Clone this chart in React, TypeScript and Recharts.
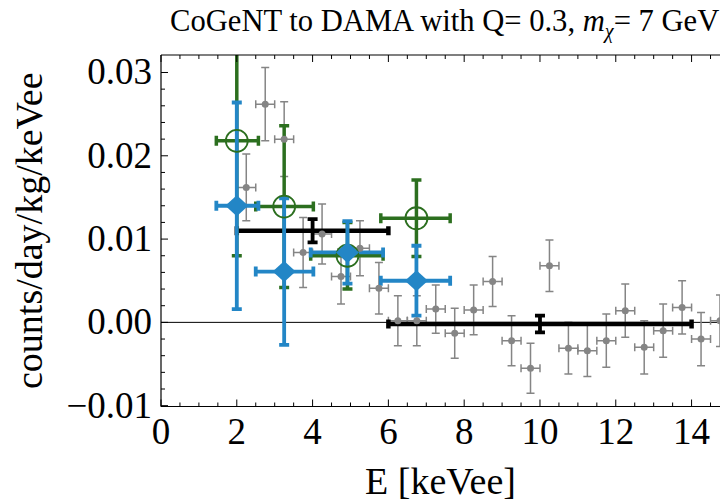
import React from 'react';
import { ScatterChart, Scatter, XAxis, YAxis, ErrorBar, ReferenceLine } from 'recharts';

// CoGeNT modulation amplitude in 0.5 keVee bins
const cogentE = [2.25, 2.75, 3.25, 3.75, 4.25, 4.75, 5.25, 5.75, 6.25, 6.75, 7.25, 7.75, 8.25, 8.75, 9.25, 9.75, 10.25, 10.75, 11.25, 11.75, 12.25, 12.75, 13.25, 13.75, 14.25, 14.75];
const cogentAmp = [0.0162, 0.0262, 0.022, 0.0084, 0.0106, 0.0055, 0.0089, 0.0041, 0.0002, 0.0002, 0.0016, -0.0013, 0.0015, 0.0049, -0.0022, -0.0055, 0.0068, -0.0031, -0.0034, -0.0022, 0.0014, -0.003, -0.001, 0.0018, -0.002, 0.0002];
const cogentErr = [0.004, 0.0044, 0.0045, 0.0042, 0.0036, 0.0033, 0.0033, 0.0031, 0.003, 0.003, 0.0029, 0.003, 0.003, 0.003, 0.003, 0.003, 0.0031, 0.0031, 0.0031, 0.0032, 0.0032, 0.0032, 0.0032, 0.0032, 0.0032, 0.0031];
const cogentHalfBin = 0.25;

// DAMA modulation amplitude
const damaE = [4, 10];
const damaHalfWidth = [2, 4];
const damaAmp = [0.011, -0.0002];
const damaErr = [0.0014, 0.001];

// CoGeNT rebinned onto DAMA energies
const convE = [2.0, 3.25, 4.92, 6.74];
const convLeft = [0.54, 0.75, 0.97, 0.94];
const convRight = [0.57, 0.77, 0.94, 0.89];
const greenAmp = [0.0218, 0.0139, 0.008, 0.0125];
const greenErr = [0.0138, 0.0097, 0.004, 0.0046];
const blueAmp = [0.014, 0.0061, 0.0084, 0.0050];
const blueErr = [0.0124, 0.0088, 0.00375, 0.0042];

// axis ticks
const xTicks = [0, 0.5, 1, 1.5, 2, 2.5, 3, 3.5, 4, 4.5, 5, 5.5, 6, 6.5, 7, 7.5, 8, 8.5, 9, 9.5, 10, 10.5, 11, 11.5, 12, 12.5, 13, 13.5, 14, 14.5];
const xMajor = [0, 2, 4, 6, 8, 10, 12, 14];
const yTicks = [-0.01, -0.008, -0.006, -0.004, -0.002, 0, 0.002, 0.004, 0.006, 0.008, 0.01, 0.012, 0.014, 0.016, 0.018, 0.02, 0.022, 0.024, 0.026, 0.028, 0.03];
const yMajor = [-0.01, 0, 0.01, 0.02, 0.03];
const yMajorLabels = ['\u22120.01', '0.00', '0.01', '0.02', '0.03'];

const SERIF = '"Liberation Serif", "Times New Roman", serif';
const GRAY = '#858585';
const GREEN = '#2c6f1f';
const BLUE = '#2386c6';
const TICK_FONT = 37;

// chart layout
const W = 720;
const H = 503;
const MARGIN_TOP = 54;
const TOP_AXIS_H = 1;
const Y_AXIS_W = 161;
const X_AXIS_H = 96.5;

const grayData = cogentE.map((x, i) => ({ x, y: cogentAmp[i], ex: cogentHalfBin, ey: cogentErr[i] }));
const damaData = damaE.map((x, i) => ({ x, y: damaAmp[i], ex: damaHalfWidth[i], ey: damaErr[i] }));
const greenData = convE.map((x, i) => ({ x, y: greenAmp[i], ex: [convLeft[i], convRight[i]], ey: greenErr[i] }));
const blueData = convE.map((x, i) => ({ x, y: blueAmp[i], ex: [convLeft[i], convRight[i]], ey: blueErr[i] }));

const near = (a: number, list: number[]) => list.findIndex((b) => Math.abs(a - b) < 1e-9);

const BottomTick = (props: any) => {
  const { x, y, payload } = props;
  const major = near(payload.value, xMajor) >= 0;
  return (
    <g>
      <line x1={x} x2={x} y1={y} y2={y - (major ? 7 : 4)} stroke="#000" strokeWidth={1} />
      {major && (
        <text x={x} y={y + 37.5} textAnchor="middle" fontSize={TICK_FONT} fontFamily={SERIF} fill="#000">
          {payload.value}
        </text>
      )}
    </g>
  );
};

const TopTick = (props: any) => {
  const { x, y, payload } = props;
  const major = near(payload.value, xMajor) >= 0;
  return <line x1={x} x2={x} y1={y} y2={y + (major ? 7 : 4)} stroke="#000" strokeWidth={1} />;
};

const LeftTick = (props: any) => {
  const { x, y, payload } = props;
  const idx = near(payload.value, yMajor);
  const major = idx >= 0;
  return (
    <g>
      <line x1={x} x2={x + (major ? 7 : 4)} y1={y} y2={y} stroke="#000" strokeWidth={1} />
      {major && (
        <text x={x - 9} y={y + 12} textAnchor="end" fontSize={TICK_FONT} fontFamily={SERIF} fill="#000">
          {yMajorLabels[idx]}
        </text>
      )}
    </g>
  );
};

const GrayDot = (p: any) => <circle cx={p.cx} cy={p.cy} r={3.5} fill={GRAY} />;
const OpenCircle = (p: any) => <circle cx={p.cx} cy={p.cy} r={11} fill="none" stroke={GREEN} strokeWidth={1.8} />;
const Diamond = (p: any) => (
  <polygon
    points={`${p.cx - 11.5},${p.cy} ${p.cx},${p.cy - 10.5} ${p.cx + 11.5},${p.cy} ${p.cx},${p.cy + 10.5}`}
    fill={BLUE}
  />
);
const NoMark = () => <g />;

export default function App() {
  const plotTop = MARGIN_TOP + TOP_AXIS_H;
  return (
    <div style={{ position: 'absolute', left: 0, top: 0, width: W, height: H, background: '#fff', overflow: 'hidden' }}>
      {/* error bars stay inside the plot frame */}
      <style>{`.recharts-errorBars { clip-path: url(#plot-frame-clip); }`}</style>
      <svg width={0} height={0} style={{ position: 'absolute' }}>
        <defs>
          <clipPath id="plot-frame-clip" clipPathUnits="userSpaceOnUse">
            <rect x={Y_AXIS_W} y={plotTop} width={W - Y_AXIS_W} height={H - X_AXIS_H - plotTop} />
          </clipPath>
        </defs>
      </svg>
      <div
        style={{
          position: 'absolute',
          left: 170,
          top: 6,
          fontFamily: SERIF,
          fontSize: 30.6,
          whiteSpace: 'nowrap',
          lineHeight: '30px',
          color: '#000',
        }}
      >
        CoGeNT to DAMA with Q= 0.3, <i>m</i>
        <sub style={{ fontSize: 20, fontStyle: 'italic', verticalAlign: -7 }}>χ</sub>= 7 GeV
      </div>
      <ScatterChart width={W} height={H} margin={{ top: MARGIN_TOP, right: 0, bottom: 0, left: 0 }}>
        <XAxis
          xAxisId="bottom"
          type="number"
          dataKey="x"
          domain={[0, 14.75]}
          allowDataOverflow
          ticks={xTicks}
          interval={0}
          tickSize={0}
          tickMargin={0}
          tickLine={false}
          tick={<BottomTick />}
          height={X_AXIS_H}
          axisLine={{ stroke: '#000', strokeWidth: 1.2 }}
          label={{
            content: (p: any) => (
              <text
                x={p.viewBox.x + p.viewBox.width / 2}
                y={494}
                textAnchor="middle"
                fontSize={38}
                fontFamily={SERIF}
                fill="#000"
              >
                E [keVee]
              </text>
            ),
          }}
        />
        <XAxis
          xAxisId="top"
          orientation="top"
          type="number"
          dataKey="x"
          domain={[0, 14.75]}
          allowDataOverflow
          ticks={xTicks}
          interval={0}
          tickSize={0}
          tickMargin={0}
          tickLine={false}
          tick={<TopTick />}
          height={TOP_AXIS_H}
          axisLine={{ stroke: '#000', strokeWidth: 1.2 }}
        />
        <YAxis
          type="number"
          dataKey="y"
          domain={[-0.0101, 0.0321]}
          allowDataOverflow
          ticks={yTicks}
          interval={0}
          tickSize={0}
          tickMargin={0}
          tickLine={false}
          tick={<LeftTick />}
          width={Y_AXIS_W}
          axisLine={{ stroke: '#000', strokeWidth: 1.2 }}
          label={{
            content: (p: any) => (
              <text
                transform={`translate(42, ${p.viewBox.y + p.viewBox.height / 2}) rotate(-90)`}
                textAnchor="middle"
                fontSize={38}
                fontFamily={SERIF}
                fill="#000"
              >
                counts/day/kg/keVee
              </text>
            ),
          }}
        />
        <ReferenceLine xAxisId="bottom" y={0} stroke="#000" strokeWidth={1} />
        <Scatter xAxisId="bottom" data={grayData} shape={<GrayDot />} isAnimationActive={false}>
          <ErrorBar dataKey="ey" direction="y" width={4} stroke={GRAY} strokeWidth={1.5} />
          <ErrorBar dataKey="ex" direction="x" width={4} stroke={GRAY} strokeWidth={1.5} />
        </Scatter>
        <Scatter xAxisId="bottom" data={damaData} shape={<NoMark />} isAnimationActive={false}>
          <ErrorBar dataKey="ex" direction="x" width={4.5} stroke="#000" strokeWidth={4.5} />
          <ErrorBar dataKey="ey" direction="y" width={5} stroke="#000" strokeWidth={3.8} />
        </Scatter>
        <Scatter xAxisId="bottom" data={greenData} shape={<OpenCircle />} isAnimationActive={false}>
          <ErrorBar dataKey="ey" direction="y" width={5} stroke={GREEN} strokeWidth={3.5} />
          <ErrorBar dataKey="ex" direction="x" width={5} stroke={GREEN} strokeWidth={3.5} />
        </Scatter>
        <Scatter xAxisId="bottom" data={blueData} shape={<Diamond />} isAnimationActive={false}>
          <ErrorBar dataKey="ey" direction="y" width={5} stroke={BLUE} strokeWidth={3.8} />
          <ErrorBar dataKey="ex" direction="x" width={5} stroke={BLUE} strokeWidth={3.8} />
        </Scatter>
      </ScatterChart>
    </div>
  );
}
